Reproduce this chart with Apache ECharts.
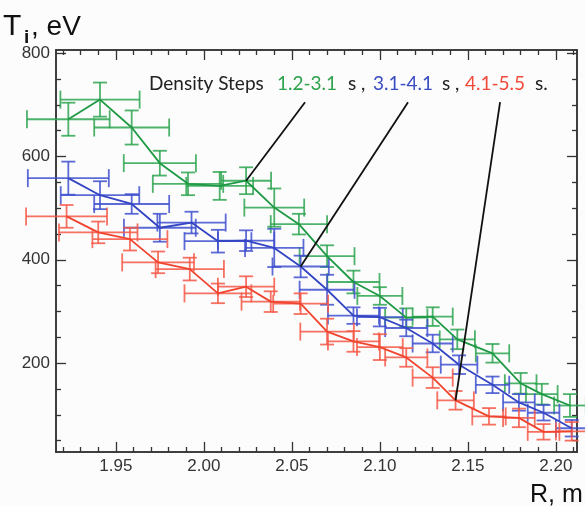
<!DOCTYPE html>
<html>
<head>
<meta charset="utf-8">
<script src="https://cdn.jsdelivr.net/npm/echarts@6/dist/echarts.min.js"></script>
<style>
  html, body { margin: 0; padding: 0; background: #fcfcfd; }
  #chart { width: 585px; height: 506px; }
</style>
</head>
<body>
<div id="chart"></div>
<script>
// Ion temperature radial profiles, one per density step.
// R in metres, Ti in eV, with half-widths of the error bars.

// 1.2-3.1 s
const greenR    = [1.923, 1.941, 1.959, 1.975, 1.991, 2.009, 2.024, 2.040, 2.054, 2.070, 2.085, 2.100, 2.115, 2.130, 2.144, 2.164, 2.180, 2.192, 2.208];
const greenT    = [672, 710, 656, 587, 547, 543, 553, 501, 469, 407, 357, 330, 288, 290, 246, 219, 161, 140, 118];
const greenRErr = [0.0235, 0.0225, 0.0213, 0.0205, 0.020, 0.019, 0.0142, 0.017, 0.016, 0.0156, 0.0148, 0.0128, 0.012, 0.0114, 0.010, 0.0095, 0.009, 0.009, 0.009];
const greenTErr = [32, 33, 33, 24, 22, 27, 26, 37, 20, 21, 22, 17, 18, 18, 19, 18, 20, 20, 22];

// 3.1-4.1 s
const blueR     = [1.923, 1.941, 1.959, 1.975, 1.993, 2.008, 2.024, 2.040, 2.055, 2.070, 2.085, 2.100, 2.115, 2.130, 2.145, 2.164, 2.179, 2.193, 2.209];
const blueT     = [558, 525, 508, 462, 472, 436, 437, 423, 387, 342, 292, 289, 268, 238, 197, 158, 124, 104, 74];
const blueRErr  = [0.023, 0.0223, 0.0213, 0.0204, 0.0194, 0.019, 0.016, 0.0166, 0.016, 0.0156, 0.0145, 0.013, 0.012, 0.0114, 0.0104, 0.0095, 0.009, 0.009, 0.009];
const blueTErr  = [32, 27, 19, 27, 21, 22, 20, 37, 21, 29, 16, 18, 16, 17, 18, 16, 16, 15, 16];

// 4.1-5.5 s
const redR      = [1.922, 1.940, 1.958, 1.974, 1.992, 2.008, 2.024, 2.038, 2.055, 2.070, 2.085, 2.100, 2.115, 2.130, 2.143, 2.162, 2.179, 2.193, 2.209];
const redT      = [484, 453, 440, 395, 382, 335, 348, 319, 315, 261, 242, 231, 211, 172, 128, 97, 94, 67, 68];
const redRErr   = [0.023, 0.0223, 0.0213, 0.0204, 0.0194, 0.019, 0.016, 0.0166, 0.0156, 0.0152, 0.0145, 0.013, 0.012, 0.0114, 0.0104, 0.0095, 0.009, 0.009, 0.009];
const redTErr   = [22, 21, 22, 21, 22, 19, 20, 20, 20, 25, 20, 25, 18, 20, 18, 16, 18, 15, 18];

// Pointer lines from the caption to one point of each profile
const calloutR      = [2.0575, 2.116, 2.1683];
const calloutT      = [705, 705, 705];
const calloutTarget = [6, 8, 14];

// Axis ticks and labels
const xRange      = [1.916, 2.212];
const yRange      = [28, 806];
const xMajorTicks = [1.95, 2.00, 2.05, 2.10, 2.15, 2.20];
const xMinorTicks = [1.92, 1.93, 1.94, 1.96, 1.97, 1.98, 1.99, 2.01, 2.02, 2.03, 2.04, 2.06, 2.07, 2.08, 2.09, 2.11, 2.12, 2.13, 2.14, 2.16, 2.17, 2.18, 2.19, 2.21];
const yMajorTicks = [200, 400, 600, 800];
const yMinorTicks = [50, 100, 150, 250, 300, 350, 450, 500, 550, 650, 700, 750];

const caption = [
  { text: 'Density Steps', color: '#222222' },
  { text: '1.2-3.1', color: '#2ea24c' },
  { text: 's ,', color: '#222222' },
  { text: '3.1-4.1', color: '#3a4cc2' },
  { text: 's ,', color: '#222222' },
  { text: '4.1-5.5', color: '#f04a3a' },
  { text: 's.', color: '#222222' }
];
const captionX = [149, 277, 348, 373, 442, 465, 535];

const COLORS = {
  green: { line: '#1f9a44', bar: 'rgba(46,164,80,0.85)' },
  blue:  { line: '#3445c4', bar: 'rgba(64,80,206,0.85)' },
  red:   { line: '#f0442e', bar: 'rgba(244,88,70,0.85)' }
};

const AXIS_COLOR = '#333333';
const FONT = '"Liberation Sans", Arial, sans-serif';

function zipPoints(r, t) {
  return r.map((v, i) => [v, t[i]]);
}
function zipErrors(r, t, dr, dt) {
  return r.map((v, i) => [v, t[i], dr[i], dt[i]]);
}

// Cross-shaped error bar with caps on all four ends
function renderErrorBar(color) {
  return function (params, api) {
    const r = api.value(0), t = api.value(1), dr = api.value(2), dt = api.value(3);
    const c = api.coord([r, t]);
    const left = api.coord([r - dr, t])[0];
    const right = api.coord([r + dr, t])[0];
    const top = api.coord([r, t + dt])[1];
    const bottom = api.coord([r, t - dt])[1];
    const capH = 9, capW = 7;
    const style = { stroke: color, lineWidth: 1.8, fill: null };
    const seg = (x1, y1, x2, y2) => ({ type: 'line', shape: { x1, y1, x2, y2 }, style });
    return {
      type: 'group',
      children: [
        seg(left, c[1], right, c[1]),
        seg(left, c[1] - capH, left, c[1] + capH),
        seg(right, c[1] - capH, right, c[1] + capH),
        seg(c[0], top, c[0], bottom),
        seg(c[0] - capW, top, c[0] + capW, top),
        seg(c[0] - capW, bottom, c[0] + capW, bottom)
      ]
    };
  };
}

function profileSeries(r, t, dr, dt, col) {
  return [
    {
      type: 'custom',
      renderItem: renderErrorBar(col.bar),
      data: zipErrors(r, t, dr, dt),
      encode: { x: 0, y: 1 },
      clip: false,
      silent: true,
      z: 2
    },
    {
      type: 'line',
      data: zipPoints(r, t),
      showSymbol: false,
      lineStyle: { color: col.line, width: 1.8 },
      silent: true,
      z: 3
    }
  ];
}

const profiles = [
  [greenR, greenT],
  [blueR, blueT],
  [redR, redT]
];

const calloutSeries = calloutR.map((r, k) => {
  const [pr, pt] = profiles[k];
  const j = calloutTarget[k];
  return {
    type: 'line',
    data: [[r, calloutT[k]], [pr[j], pt[j]]],
    showSymbol: false,
    lineStyle: { color: '#111111', width: 1.8 },
    silent: true,
    z: 5
  };
});

function xAxisDef(position, ticks, len, labels) {
  return {
    type: 'value', position, min: xRange[0], max: xRange[1],
    axisLine: { show: true, onZero: false, lineStyle: { color: AXIS_COLOR, width: 1.5 } },
    axisTick: { show: true, inside: true, length: len, customValues: ticks, lineStyle: { color: AXIS_COLOR, width: 1.3 } },
    axisLabel: labels ? {
      show: true, customValues: ticks, margin: 6, color: AXIS_COLOR,
      fontSize: 17, fontFamily: FONT, formatter: v => v.toFixed(2)
    } : { show: false, customValues: ticks },
    splitLine: { show: false }
  };
}
function yAxisDef(position, ticks, len, labels) {
  return {
    type: 'value', position, min: yRange[0], max: yRange[1],
    axisLine: { show: true, onZero: false, lineStyle: { color: AXIS_COLOR, width: 1.5 } },
    axisTick: { show: true, inside: true, length: len, customValues: ticks, lineStyle: { color: AXIS_COLOR, width: 1.3 } },
    axisLabel: labels ? {
      show: true, customValues: ticks, margin: 6, color: AXIS_COLOR,
      fontSize: 17, fontFamily: FONT
    } : { show: false, customValues: ticks },
    splitLine: { show: false }
  };
}

const chart = echarts.init(document.getElementById('chart'), null, { renderer: 'canvas' });

const captionGraphics = caption.map((piece, i) => ({
  type: 'text',
  left: captionX[i],
  top: 74,
  style: { text: piece.text, fill: piece.color, fontSize: 19, fontFamily: 'Lato, "Open Sans", sans-serif' },
  z: 10
}));

chart.setOption({
  backgroundColor: '#fcfcfd',
  animation: false,
  grid: { left: 56, right: 8, top: 50, bottom: 54, containLabel: false },
  xAxis: [
    xAxisDef('bottom', xMajorTicks, 10, true),
    xAxisDef('bottom', xMinorTicks, 5, false),
    xAxisDef('top', xMajorTicks, 10, false),
    xAxisDef('top', xMinorTicks, 5, false)
  ],
  yAxis: [
    yAxisDef('left', yMajorTicks, 10, true),
    yAxisDef('left', yMinorTicks, 5, false),
    yAxisDef('right', yMajorTicks, 10, false),
    yAxisDef('right', yMinorTicks, 5, false)
  ],
  graphic: [
    ...captionGraphics,
    { type: 'text', left: 3, top: 12, style: { text: 'T', fill: '#111', fontSize: 30, fontFamily: FONT } },
    { type: 'text', left: 24, top: 28, style: { text: 'i', fill: '#111', fontSize: 19, fontWeight: 'bold', fontFamily: FONT } },
    { type: 'text', left: 31, top: 13, style: { text: ', eV', fill: '#111', fontSize: 28, fontFamily: FONT } },
    { type: 'text', left: 530, top: 483, style: { text: 'R, m', fill: '#111', fontSize: 25, fontFamily: FONT } }
  ],
  series: [
    ...profileSeries(greenR, greenT, greenRErr, greenTErr, COLORS.green),
    ...profileSeries(blueR, blueT, blueRErr, blueTErr, COLORS.blue),
    ...profileSeries(redR, redT, redRErr, redTErr, COLORS.red),
    ...calloutSeries
  ]
});
</script>
</body>
</html>
